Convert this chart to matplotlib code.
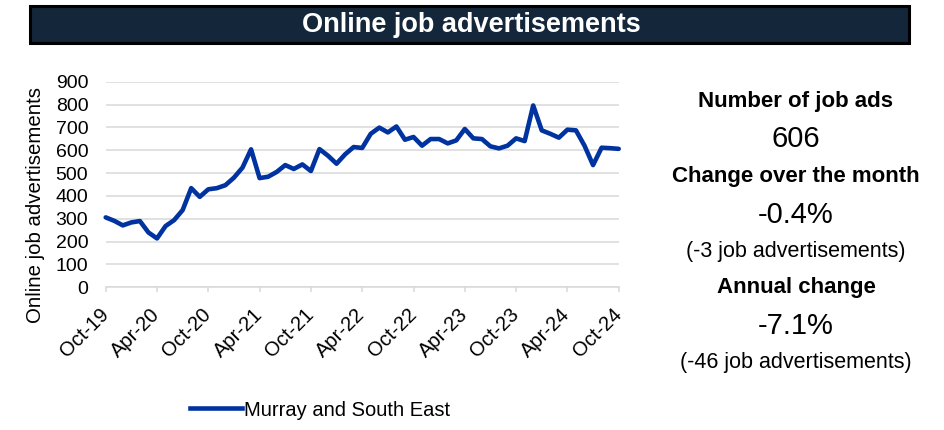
import matplotlib
matplotlib.use("Agg")
import matplotlib.pyplot as plt
from matplotlib.patches import Rectangle
from matplotlib.lines import Line2D

plt.rcParams['font.family'] = ['Liberation Sans', 'DejaVu Sans']

months = ['Oct-19','Nov-19','Dec-19','Jan-20','Feb-20','Mar-20','Apr-20','May-20','Jun-20','Jul-20','Aug-20','Sep-20',
          'Oct-20','Nov-20','Dec-20','Jan-21','Feb-21','Mar-21','Apr-21','May-21','Jun-21','Jul-21','Aug-21','Sep-21',
          'Oct-21','Nov-21','Dec-21','Jan-22','Feb-22','Mar-22','Apr-22','May-22','Jun-22','Jul-22','Aug-22','Sep-22',
          'Oct-22','Nov-22','Dec-22','Jan-23','Feb-23','Mar-23','Apr-23','May-23','Jun-23','Jul-23','Aug-23','Sep-23',
          'Oct-23','Nov-23','Dec-23','Jan-24','Feb-24','Mar-24','Apr-24','May-24','Jun-24','Jul-24','Aug-24','Sep-24',
          'Oct-24']
ads = [306, 291, 271, 284, 290, 240, 214, 268, 294, 338, 434, 396,
       429, 434, 447, 480, 524, 604, 478, 484, 505, 535, 518, 538,
       509, 605, 576, 541, 582, 614, 610, 672, 699, 678, 704, 646,
       658, 620, 649, 649, 630, 643, 693, 652, 649, 617, 608, 620,
       652, 640, 796, 687, 672, 655, 690, 687, 620, 535, 611, 609,
       606]
series_name = 'Murray and South East'
tick_labels = ['Oct-19','Apr-20','Oct-20','Apr-21','Oct-21','Apr-22','Oct-22','Apr-23','Oct-23','Apr-24','Oct-24']
y_ticks = [0, 100, 200, 300, 400, 500, 600, 700, 800, 900]
panel_texts = [
    ('Number of job ads', 'bold', 16),
    ('606', 'normal', 21),
    ('Change over the month', 'bold', 16),
    ('-0.4%', 'normal', 21),
    ('(-3 job advertisements)', 'normal', 15.5),
    ('Annual change', 'bold', 16),
    ('-7.1%', 'normal', 21),
    ('(-46 job advertisements)', 'normal', 15.5),
]
panel_y = [101.7, 139.3, 176.7, 215, 252, 288, 326, 362.7]

W, H = 944, 430
fig = plt.figure(figsize=(W/100, H/100), dpi=100)

# Title banner
banner = Rectangle((30.5/W, 1-42.8/H), (909.5-30.5)/W, (42.8-5.5)/H, transform=fig.transFigure,
                   facecolor='#13263a', edgecolor='black', linewidth=2.2)
fig.patches.append(banner)
fig.text(471/W, 1-24.5/H, 'Online job advertisements', color='white', fontsize=19.5,
         fontweight='bold', ha='center', va='center')

ax = fig.add_axes([105.7/W, 1-287.3/H, (618.7-105.7)/W, (287.3-81.7)/H])
x = list(range(len(ads)))
line, = ax.plot(x, ads, color='#0033a0', linewidth=3.3, solid_joinstyle='round', solid_capstyle='round',
                clip_on=False)
ax.set_xlim(0, len(ads)-1)
ax.set_ylim(0, 900)
ax.set_yticks(y_ticks)
ax.set_yticklabels([str(v) for v in y_ticks], fontsize=14)
ax.grid(axis='y', color='#d9d9d9', linewidth=1.1)
ax.set_axisbelow(True)
tick_pos = [months.index(t) for t in tick_labels]
ax.set_xticks(tick_pos)
ax.set_xticklabels(tick_labels, fontsize=14.5, rotation=45, ha='right', va='center', rotation_mode='anchor')
ax.tick_params(axis='y', length=0, pad=12.5)
ax.tick_params(axis='x', length=3.6, color='#d9d9d9', width=1.1, pad=14)
for s in ['left', 'right', 'top']:
    ax.spines[s].set_visible(False)
ax.spines['bottom'].set_color('#d9d9d9')
ax.spines['bottom'].set_linewidth(1.1)

fig.text(36/W, 1-205/H, 'Online job advertisements', rotation=90, fontsize=14.7,
         ha='center', va='center')

# Legend
handle = Line2D([], [], color='#0033a0', linewidth=3.3)
fig.legend([handle], [series_name], loc='center', bbox_to_anchor=(320/W, 1-410/H),
           frameon=False, fontsize=14.5, handlelength=2.6, handletextpad=0.1)

# Right panel
for (txt, wt, fs), yy in zip(panel_texts, panel_y):
    fig.text(796/W, 1-yy/H, txt, fontsize=fs, fontweight=wt, ha='center', va='center')

fig.savefig('out.png', dpi=100)
